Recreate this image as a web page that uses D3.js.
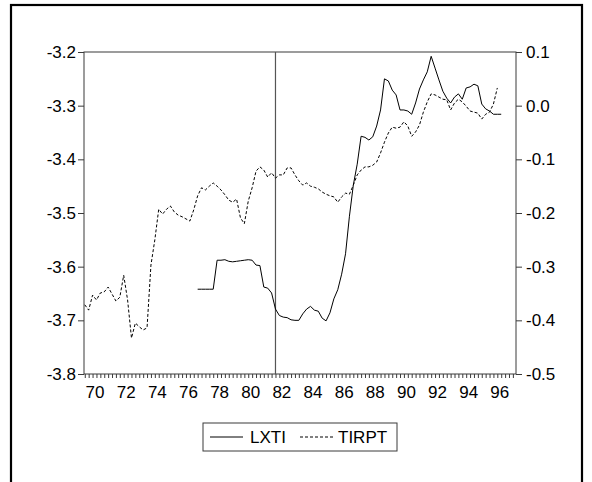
<!DOCTYPE html>
<html>
<head>
<meta charset="utf-8">
<script src="https://cdn.jsdelivr.net/npm/d3@7"></script>
<style>
  html, body { margin: 0; padding: 0; background: #fff; }
  svg { display: block; font-family: "Liberation Sans", Arial, sans-serif; }
</style>
</head>
<body>
<svg id="chart" width="592" height="482"></svg>
<script>
// Quarterly series. Time is year + (quarter - 1) / 4.
const tirptStart = 1969.5;   // 1969Q3
const tirpt = [
  -0.371, -0.381, -0.353, -0.362, -0.349, -0.347, -0.338, -0.351, -0.364, -0.357,
  -0.316, -0.362, -0.433, -0.405, -0.412, -0.418, -0.414, -0.297, -0.250, -0.193,
  -0.202, -0.193, -0.187, -0.198, -0.204, -0.207, -0.211, -0.215, -0.194, -0.168,
  -0.153, -0.157, -0.150, -0.144, -0.150, -0.157, -0.166, -0.176, -0.180, -0.174,
  -0.209, -0.220, -0.178, -0.153, -0.122, -0.114, -0.120, -0.133, -0.125, -0.135,
  -0.129, -0.129, -0.116, -0.116, -0.129, -0.140, -0.148, -0.144, -0.150, -0.152,
  -0.155, -0.161, -0.165, -0.168, -0.170, -0.180, -0.170, -0.163, -0.165, -0.148,
  -0.129, -0.120, -0.114, -0.114, -0.111, -0.105, -0.088, -0.068, -0.051, -0.040,
  -0.042, -0.040, -0.030, -0.038, -0.057, -0.049, -0.036, -0.012, 0.007, 0.022,
  0.020, 0.016, 0.012, 0.011, -0.008, 0.005, 0.012, 0.007, -0.001, -0.010,
  -0.012, -0.014, -0.025, -0.016, -0.012, 0.003, 0.033
];

const lxtiStart = 1976.75;   // 1976Q4
const lxti = [
  -3.642, -3.642, -3.642, -3.642, -3.642, -3.588, -3.588, -3.587, -3.590, -3.591,
  -3.590, -3.589, -3.588, -3.587, -3.588, -3.597, -3.598, -3.638, -3.640, -3.649,
  -3.679, -3.691, -3.694, -3.695, -3.699, -3.700, -3.700, -3.688, -3.679, -3.674,
  -3.681, -3.683, -3.696, -3.701, -3.686, -3.660, -3.643, -3.614, -3.576, -3.506,
  -3.448, -3.409, -3.357, -3.359, -3.364, -3.358, -3.338, -3.308, -3.250, -3.254,
  -3.271, -3.280, -3.308, -3.308, -3.310, -3.316, -3.295, -3.269, -3.252, -3.237,
  -3.208, -3.230, -3.252, -3.273, -3.286, -3.295, -3.284, -3.278, -3.288, -3.267,
  -3.265, -3.260, -3.263, -3.297, -3.306, -3.310, -3.316, -3.316, -3.316
];

const leftTicks  = [-3.8, -3.7, -3.6, -3.5, -3.4, -3.3, -3.2];
const rightTicks = [-0.5, -0.4, -0.3, -0.2, -0.1, 0.0, 0.1];
const yearLabels = [70, 72, 74, 76, 78, 80, 82, 84, 86, 88, 90, 92, 94, 96];
const seriesNames = ["LXTI", "TIRPT"];
const markerTime = 1981.75;  // vertical reference line

const svg = d3.select("#chart");
const axisColor = "#3a3a3a";
const fontSize = 17;
const fontFamily = '"Liberation Sans", Arial, sans-serif';

// Outer frame
svg.append("rect")
  .attr("x", 11).attr("y", 5)
  .attr("width", 571).attr("height", 490)
  .attr("fill", "none").attr("stroke", "#000").attr("stroke-width", 2.2);

const plot = { left: 84, right: 516, top: 52, bottom: 374 };

const x = d3.scaleLinear().domain([1969.45, 1997.2]).range([plot.left, plot.right]);
const yL = d3.scaleLinear().domain([-3.8, -3.2]).range([plot.bottom, plot.top]);
const yR = d3.scaleLinear().domain([-0.5, 0.1]).range([plot.bottom, plot.top]);

const fmt = d => d.toFixed(1);

// Left axis
const gL = svg.append("g")
  .attr("transform", `translate(${plot.left},0)`)
  .call(d3.axisLeft(yL).tickValues(leftTicks).tickSize(6).tickPadding(2).tickFormat(fmt));

// Right axis
const gR = svg.append("g")
  .attr("transform", `translate(${plot.right},0)`)
  .call(d3.axisRight(yR).tickValues(rightTicks).tickSize(6).tickPadding(4).tickFormat(fmt));

// Bottom axis: a tick every quarter, labels on even years
const quarterTicks = d3.range(1969.5, 1997.2, 0.25);
const gB = svg.append("g")
  .attr("transform", `translate(0,${plot.bottom})`)
  .call(d3.axisBottom(x).tickValues(quarterTicks).tickSize(4).tickPadding(8)
    .tickFormat(d => {
      const yr = Math.round(d);
      return (Math.abs(d - yr) < 1e-9 && yearLabels.includes(yr % 100)) ? String(yr % 100) : "";
    }));
gB.selectAll("text").attr("dx", 2);

[gL, gR, gB].forEach(g => {
  g.select(".domain").remove();
  g.selectAll("line").attr("stroke", axisColor);
  g.selectAll("text").attr("fill", "#000").style("font-size", fontSize + "px")
    .style("font-family", fontFamily);
});

// Plot frame
svg.append("rect")
  .attr("x", plot.left).attr("y", plot.top)
  .attr("width", plot.right - plot.left).attr("height", plot.bottom - plot.top)
  .attr("fill", "none").attr("stroke", axisColor).attr("stroke-width", 1);

// Vertical reference line
svg.append("line")
  .attr("x1", x(markerTime)).attr("x2", x(markerTime))
  .attr("y1", plot.top).attr("y2", plot.bottom)
  .attr("stroke", "#555").attr("stroke-width", 1.2);

// Series lines
const lxtiPts = lxti.map((v, i) => [lxtiStart + i * 0.25, v]);
const tirptPts = tirpt.map((v, i) => [tirptStart + i * 0.25, v]);

svg.append("path")
  .datum(tirptPts)
  .attr("fill", "none").attr("stroke", "#000").attr("stroke-width", 1)
  .attr("stroke-dasharray", "3,2")
  .attr("d", d3.line().x(d => x(d[0])).y(d => yR(d[1])));

svg.append("path")
  .datum(lxtiPts)
  .attr("fill", "none").attr("stroke", "#000").attr("stroke-width", 1)
  .attr("d", d3.line().x(d => x(d[0])).y(d => yL(d[1])));

// Legend
const legend = svg.append("g").attr("transform", "translate(203,423)");
legend.append("rect")
  .attr("x", 0).attr("y", 0).attr("width", 194).attr("height", 28)
  .attr("fill", "#fff").attr("stroke", axisColor).attr("stroke-width", 1);

const items = [
  { name: seriesNames[0], dash: null, x0: 7, x1: 40, tx: 47 },
  { name: seriesNames[1], dash: "3,2", x0: 97, x1: 130, tx: 135 }
];
items.forEach(it => {
  legend.append("line")
    .attr("x1", it.x0).attr("x2", it.x1).attr("y1", 14).attr("y2", 14)
    .attr("stroke", "#000").attr("stroke-width", 1)
    .attr("stroke-dasharray", it.dash);
  legend.append("text")
    .attr("x", it.tx).attr("y", 14).attr("dy", "0.36em")
    .style("font-size", fontSize + "px")
    .style("font-family", fontFamily)
    .text(it.name);
});
</script>
</body>
</html>
